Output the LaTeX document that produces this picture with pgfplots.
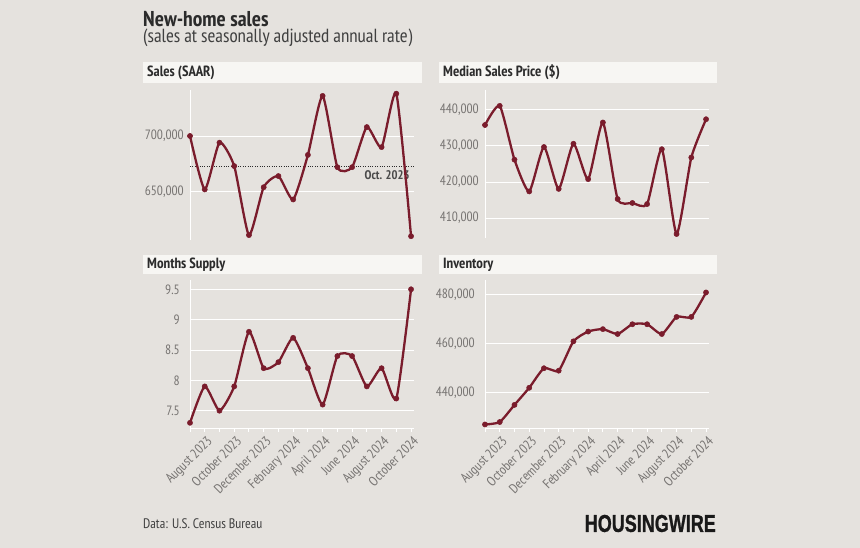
\documentclass[border=0pt]{standalone}
\usepackage{fontspec}
\setmainfont{PT Sans Narrow}
\newfontfamily\logofont{Liberation Sans}[BoldFeatures={FakeBold=1.2}]
\usepackage{graphicx}
\usepackage{pgfplots}
\pgfplotsset{compat=1.18}
\definecolor{bg}{HTML}{E5E2DE}
\definecolor{hdr}{HTML}{F7F6F3}
\definecolor{wine}{HTML}{7A1C2C}
\definecolor{tickgray}{HTML}{777472}
\definecolor{dark}{HTML}{2B2B2B}
\pgfplotsset{
  panel/.style={
    scale only axis, width=224pt, xmin=1, xmax=16.2, anchor=north west,
    axis x line*=bottom, axis y line*=left,
    axis line style={white, line width=0.9pt},
    ymajorgrids, grid style={white, line width=0.9pt},
    ytick style={draw=none},
    scaled y ticks=false,
    /pgf/number format/assume math mode=true,
    yticklabel style={font=\fontsize{13.5}{15}\selectfont, text=tickgray, inner sep=0pt, xshift=-6pt},
    clip=false,
  },
  toppanel/.style={panel, xtick=\empty, x axis line style={draw=none}},
  botpanel/.style={panel, xtick={1,...,16},
    xticklabels={,August 2023,,October 2023,,December 2023,,February 2024,,April 2024,,June 2024,,August 2024,,October 2024},
    xtick style={white, line width=0.9pt}, major tick length=4pt, tick align=outside,
    xticklabel style={rotate=45, anchor=north east, font=\fontsize{13.5}{15}\selectfont, text=tickgray, inner sep=1pt, yshift=-2pt}},
  ser/.style={wine, line width=2.3pt, smooth, tension=0.35, mark=*, mark size=2.6pt, mark options={fill=wine, draw=wine, line width=0.5pt}},
}
\begin{document}
\begin{tikzpicture}
\fill[bg] (0,0) rectangle (860pt,548pt);
\node[anchor=base west, inner sep=0pt, font=\bfseries\fontsize{21.5}{23}\selectfont, text=dark] at (143pt,521pt) {New-home sales};
\node[anchor=base west, inner sep=0pt, font=\fontsize{19}{21}\selectfont, text=dark!90] at (143pt,505pt) {(sales at seasonally adjusted annual rate)};
% header bars
\fill[hdr] (143pt,486pt) rectangle (422pt,465pt);
\fill[hdr] (439pt,486pt) rectangle (717pt,465pt);
\fill[hdr] (143pt,293pt) rectangle (422pt,274pt);
\fill[hdr] (439pt,293pt) rectangle (717pt,274pt);
\node[anchor=west, inner sep=0pt, font=\bfseries\fontsize{14.8}{16}\selectfont, text=dark] at (147pt,475.5pt) {Sales (SAAR)};
\node[anchor=west, inner sep=0pt, font=\bfseries\fontsize{14.8}{16}\selectfont, text=dark] at (443pt,475.5pt) {Median Sales Price (\$)};
\node[anchor=west, inner sep=0pt, font=\bfseries\fontsize{14.8}{16}\selectfont, text=dark] at (147pt,283.5pt) {Months Supply};
\node[anchor=west, inner sep=0pt, font=\bfseries\fontsize{14.8}{16}\selectfont, text=dark] at (443pt,283.5pt) {Inventory};

% Sales
\begin{axis}[toppanel, at={(190pt,458pt)}, height=150pt, ymin=606600, ymax=741300,
  ytick={650000,700000}, yticklabels={{650,000},{700,000}}]
\addplot[dark, line width=1pt, dash pattern=on 1pt off 1.4pt] coordinates {(1,672500) (16.2,672500)}
  node[pos=1, anchor=north east, inner sep=0pt, yshift=-3pt, xshift=-4pt, font=\bfseries\fontsize{12.5}{14}\selectfont, text=dark!85] {Oct. 2023};
\addplot[ser] coordinates {(1,700000) (2,652000) (3,694000) (4,673000) (5,611000) (6,654000) (7,664000) (8,643000) (9,683000) (10,736000) (11,672000) (12,672000) (13,708000) (14,690000) (15,738000) (16,610000)};
\end{axis}

% Median price
\begin{axis}[toppanel, at={(485pt,458pt)}, height=148pt, ymin=404500, ymax=445500,
  ytick={410000,420000,430000,440000}, yticklabels={{410,000},{420,000},{430,000},{440,000}}]
\addplot[ser] coordinates {(1,435800) (2,441100) (3,426200) (4,417400) (5,429700) (6,418100) (7,430600) (8,420800) (9,436500) (10,415300) (11,414200) (12,413900) (13,429100) (14,405600) (15,426800) (16,437400)};
\end{axis}

% Months supply
\begin{axis}[botpanel, at={(190pt,268pt)}, height=148pt, ymin=7.215, ymax=9.653,
  ytick={7.5,8,8.5,9,9.5}, yticklabels={7.5,8,8.5,9,9.5}]
\addplot[ser] coordinates {(1,7.3) (2,7.9) (3,7.5) (4,7.9) (5,8.8) (6,8.2) (7,8.3) (8,8.7) (9,8.2) (10,7.6) (11,8.4) (12,8.4) (13,7.9) (14,8.2) (15,7.7) (16,9.5)};
\end{axis}

% Inventory
\begin{axis}[botpanel, at={(485pt,268pt)}, height=148pt, ymin=425550, ymax=486100,
  ytick={440000,460000,480000}, yticklabels={{440,000},{460,000},{480,000}}]
\addplot[ser] coordinates {(1,427000) (2,428000) (3,435000) (4,442000) (5,450000) (6,449000) (7,461000) (8,465000) (9,466000) (10,464000) (11,468000) (12,468000) (13,464000) (14,471000) (15,471000) (16,481000)};
\end{axis}

\node[anchor=west, inner sep=0pt, font=\fontsize{13.8}{15}\selectfont, text=dark!90] at (143pt,24pt) {Data: U.S. Census Bureau};
\node[anchor=east, inner sep=0pt, text=black!90] at (716pt,24.5pt) {\resizebox{131pt}{17pt}{\logofont\bfseries HOUSINGWIRE}};
\pgfresetboundingbox
\path (0,0) rectangle (860pt,548pt);
\end{tikzpicture}
\end{document}
